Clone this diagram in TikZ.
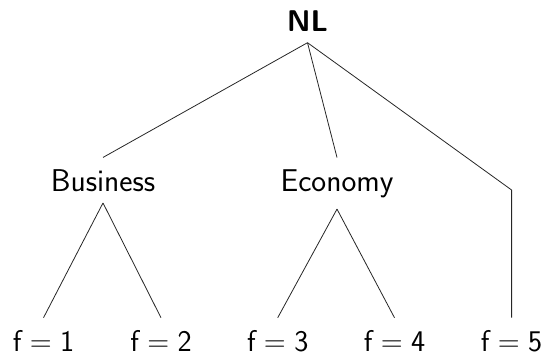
\documentclass[tikz,border=0pt]{standalone}
\newcommand{\feq}[1]{f\hspace{0.278em}=\hspace{0.278em}#1}
\begin{document}
\begin{tikzpicture}[x=1pt,y=-1pt,
  lbl/.style={anchor=base,inner xsep=0pt,inner ysep=11.5pt,font=\fontsize{30}{36}\selectfont\sffamily},
  mid/.style={lbl,font=\fontsize{31.5}{36}\selectfont\sffamily},
  leaf/.style={lbl,inner ysep=12.5pt},
  edge/.style={line width=0.8pt,draw=black!85}]
\useasboundingbox (0,0) rectangle (545,356);
\node[lbl,font=\fontsize{30}{36}\selectfont\sffamily\bfseries] (nl) at (307.5,31) {NL};
\node[mid] (bus) at (103,191) {Business};
\node[mid] (eco) at (337,191) {Economy};
\coordinate (x5) at (511.6,190);
\node[leaf] (f1) at (43.5,351.5) {\feq{1}};
\node[leaf] (f2) at (161,351.5) {\feq{2}};
\node[leaf] (f3) at (277.7,351.5) {\feq{3}};
\node[leaf] (f4) at (394.5,351.5) {\feq{4}};
\node[leaf] (f5) at (511.6,351.5) {\feq{5}};
\draw[edge] (nl.south) -- (bus.north);
\draw[edge] (nl.south) -- (eco.north);
\draw[edge] (nl.south) -- (x5) -- (f5.north);
\draw[edge] (bus.south) -- (f1.north);
\draw[edge] (bus.south) -- (f2.north);
\draw[edge] (eco.south) -- (f3.north);
\draw[edge] (eco.south) -- (f4.north);
\end{tikzpicture}
\end{document}
